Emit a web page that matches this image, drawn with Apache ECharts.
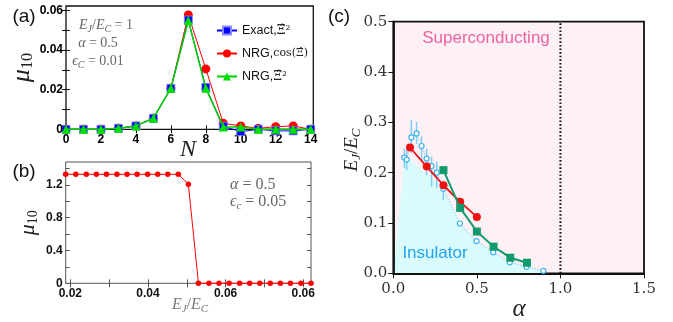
<!DOCTYPE html>
<html><head><meta charset="utf-8">
<script src="https://cdn.jsdelivr.net/npm/echarts@6/dist/echarts.min.js"></script>
<style>html,body{margin:0;padding:0;background:#fff}#c{width:673px;height:322px}</style>
</head><body><div id="c"></div>
<script>
// ---------- Panel (a) ----------
const nA      = [0,1,2,3,4,5,6,7,8,9,10,11,12,13,14];
const exactA  = [0,0,0,0.0005,0.0017,0.0056,0.0207,0.0552,0.0212,0.0015,-0.0012,0,-0.0008,-0.0008,0];
const nrgCosA = [0,0,0,0.0005,0.0017,0.0056,0.0207,0.0578,0.0305,0.0030,0.0017,0.0005,0.0013,0.0017,0];
const nrgSqA  = [0,0,0,0.0005,0.0017,0.0056,0.0207,0.0550,0.0207,0.0012,0.0012,0,0,0,0];
const tickValsAy  = [0,0.01,0.02,0.03,0.04,0.05,0.06];
const labelValsAy = [0,0.02,0.04,0.06];
const labelTxtAy  = ['0','0.02','0.04','0.06'];

// ---------- Panel (b) ----------
const ejB = [0.0188,0.0214,0.0241,0.0267,0.0293,0.0320,0.0346,0.0372,0.0399,0.0425,0.0451,0.0478,
             0.0504,0.0530,0.0557,0.0583,0.0609,0.0636,0.0662,0.0688,0.0715,0.0741,0.0767,0.0794,0.0820];
const muB = [1.33,1.33,1.33,1.33,1.33,1.33,1.33,1.33,1.33,1.33,1.33,1.33,
             1.21,0,0,0,0,0,0,0,0,0,0,0,0];
const tickValsB  = [0.02,0.03,0.04,0.05,0.06,0.07,0.08];
const labelValsB = [0.02,0.04,0.06,0.08];
const labelTxtB  = ['0.02','0.04','0.06','0.06'];
const tickValsBy  = [0,0.2,0.4,0.6,0.8,1.0,1.2,1.4];
const labelValsBy = [0,0.4,0.8,1.2];
const labelTxtBy  = ['0','0.4','0.8','1.2'];

// ---------- Panel (c) ----------
const mcAlpha = [0.066,0.080,0.108,0.139,0.169,0.199,0.229,0.260,0.299,0.398,0.498,0.598,0.697,0.797,0.898];
const mcVal   = [0.230,0.226,0.270,0.278,0.253,0.228,0.213,0.200,0.168,0.099,0.064,0.042,0.022,0.013,0.005];
const errAlpha = [0.066,0.080,0.108,0.139,0.169,0.199,0.229,0.260,0.299];
const errLow   = [0.209,0.205,0.239,0.257,0.225,0.195,0.172,0.169,0.146];
const errHigh  = [0.248,0.245,0.305,0.301,0.272,0.248,0.232,0.222,0.178];
const redAlpha = [0.1,0.2,0.3,0.4,0.5];
const redVal   = [0.250,0.212,0.175,0.142,0.112];
const grnAlpha = [0.3,0.4,0.5,0.6,0.7,0.8];
const grnVal   = [0.205,0.130,0.083,0.053,0.031,0.021];
const fillAlpha = [0,0.07,0.3,0.398,0.498,0.598,0.697,0.797,0.898];
const fillVal   = [0,0.235,0.168,0.099,0.064,0.042,0.022,0.013,0.005];
const critAlpha = 1.0;

const zip = (a,b)=>a.map((v,i)=>[v,b[i]]);
const SANS = 'Liberation Sans', SERIF = 'Liberation Serif', DSERIF = 'DejaVu Serif';

const GA = {left:66, top:6, width:247.3, height:123.3};
const GB = {left:65.7, top:162, width:245.3, height:121.3};
const GC = {left:393.3, top:21.7, width:250.7, height:251.6};

const lookup = (vals, txts) => v => { const i = vals.findIndex(t=>Math.abs(t-v)<1e-9); return i>=0 ? txts[i] : ''; };

function mirrorAx(grid, min, max, extra){
  return Object.assign({gridIndex:grid, type:'value', min, max, axisLine:{show:false},
    axisLabel:{show:false}, splitLine:{show:false}}, extra);
}

const tickA = {inside:true, length:4, lineStyle:{color:'#111', width:1}};
const tickB = {inside:true, length:4, lineStyle:{color:'#555', width:1}};
const lblSans = (col, margin) => ({margin, fontSize:12, fontWeight:'bold', fontFamily:SANS, color:col});
const muName = (fsM, fsN) => ({
  name:'{m|μ}{n|10}', nameLocation:'middle', nameRotate:90,
  nameTextStyle:{rich:{
    m:{fontSize:fsM, fontFamily:SERIF, fontStyle:'italic', color:'#222', lineHeight:fsM+2},
    n:{fontSize:fsN, fontFamily:SERIF, color:'#222', lineHeight:fsN, verticalAlign:'bottom'}}}
});

const option = {
  animation:false,
  backgroundColor:'#fff',
  grid:[
    Object.assign({show:true, borderColor:'#111', borderWidth:1.3, backgroundColor:'#fff'}, GA),
    Object.assign({show:true, borderColor:'#555', borderWidth:1, backgroundColor:'#fff'}, GB),
    Object.assign({show:true, borderColor:'#111', borderWidth:1.8, backgroundColor:'#fdf1f6'}, GC)
  ],
  xAxis:[
    {gridIndex:0, type:'value', min:0, max:14.15, interval:2, axisLine:{show:false}, axisTick:tickA,
     splitLine:{show:false},
     axisLabel:Object.assign(lblSans('#000',4), {formatter:v=> (Math.abs(v-Math.round(v))<1e-6 && v<=14) ? String(v) : ''})},
    mirrorAx(0, 0, 14.15, {interval:2, position:'top', axisTick:tickA}),
    {gridIndex:1, type:'value', min:0.0188, max:0.082, axisLine:{show:false},
     axisTick:Object.assign({customValues:tickValsB}, tickB), splitLine:{show:false},
     axisLabel:Object.assign(lblSans('#111',4), {customValues:labelValsB, formatter:lookup(labelValsB,labelTxtB)})},
    mirrorAx(1, 0.0188, 0.082, {position:'top', axisTick:Object.assign({customValues:tickValsB}, tickB)}),
    {gridIndex:2, type:'value', min:0, max:1.5, interval:0.5, z:3,
     axisLine:{show:true, lineStyle:{color:'#111', width:1.8}},
     axisTick:{inside:false, length:5, lineStyle:{color:'#111', width:1}}, splitLine:{show:false},
     axisLabel:{margin:8, fontSize:15, fontFamily:DSERIF, color:'#333', formatter:v=>v.toFixed(1)}}
  ],
  yAxis:[
    Object.assign({gridIndex:0, type:'value', min:0, max:0.0623, axisLine:{show:false},
     axisTick:Object.assign({customValues:tickValsAy}, tickA), splitLine:{show:false}, nameGap:30,
     axisLabel:{show:false}}, muName(26,16)),
    mirrorAx(0, 0, 0.0623, {position:'right', axisTick:Object.assign({customValues:tickValsAy}, tickA)}),
    Object.assign({gridIndex:1, type:'value', min:0, max:1.48, axisLine:{show:false},
     axisTick:Object.assign({customValues:tickValsBy}, tickB), splitLine:{show:false}, nameGap:25,
     axisLabel:{show:false}}, muName(22,14)),
    mirrorAx(1, 0, 1.48, {position:'right', axisTick:Object.assign({customValues:tickValsBy}, tickB)}),
    {gridIndex:2, type:'value', min:0, max:0.5, interval:0.1, z:3,
     axisLine:{show:true, lineStyle:{color:'#111', width:1.8}},
     axisTick:{inside:false, length:5, lineStyle:{color:'#111', width:1}}, splitLine:{show:false},
     axisLabel:{margin:6, fontSize:15, fontFamily:DSERIF, color:'#333', formatter:v=>v.toFixed(1)}}
  ],
  legend:{
    data:['Exact','NRGcos','NRGsq'], orient:'vertical', left:211, top:19, itemWidth:20, itemHeight:10,
    itemGap:10, selectedMode:false,
    textStyle:{fontSize:12, fontFamily:SANS, color:'#111',
      rich:{t:{fontSize:12.5, fontFamily:SANS, color:'#111'}, m:{fontSize:12.5, fontFamily:DSERIF, color:'#222'},
            c:{fontSize:11, fontFamily:DSERIF, color:'#222'}}},
    formatter:n=> n==='Exact' ? '{t|Exact,}{m|Ξ̂²}' : n==='NRGcos' ? '{t|NRG,}{c|cos(Ξ̂)}' : '{t|NRG,}{m|Ξ̂²}'
  },
  series:[
    {name:'NRGcos', type:'line', xAxisIndex:0, yAxisIndex:0, data:zip(nA,nrgCosA), clip:false,
     symbol:'circle', symbolSize:9, itemStyle:{color:'#ff0000'}, lineStyle:{color:'#ff0000', width:1}, z:2},
    {name:'Exact', type:'line', xAxisIndex:0, yAxisIndex:0, data:zip(nA,exactA), clip:false,
     symbol:'rect', symbolSize:8, itemStyle:{color:'#0000ff', borderColor:'#8a8aff', borderWidth:0.8},
     lineStyle:{color:'#0000ff', width:1}, z:3},
    {name:'NRGsq', type:'line', xAxisIndex:0, yAxisIndex:0, data:zip(nA,nrgSqA), clip:false,
     symbol:'triangle', symbolSize:9, itemStyle:{color:'#00e000'}, lineStyle:{color:'#00d000', width:1.5}, z:4},

    {name:'muB', type:'line', xAxisIndex:2, yAxisIndex:2, data:zip(ejB,muB), clip:false,
     symbol:'circle', symbolSize:5.5, itemStyle:{color:'#ff0000'}, lineStyle:{color:'#ff0000', width:1}},

    {name:'fill', type:'line', xAxisIndex:4, yAxisIndex:4, data:zip(fillAlpha,fillVal), symbol:'none',
     lineStyle:{width:0, opacity:0}, areaStyle:{color:'#d9fbfc', opacity:1}, z:1, silent:true},
    {name:'crit', type:'line', xAxisIndex:4, yAxisIndex:4, data:[[critAlpha,0],[critAlpha,0.5]], symbol:'none',
     lineStyle:{color:'#111', width:2, type:[1.6,2]}, z:2},
    {name:'err', type:'custom', xAxisIndex:4, yAxisIndex:4,
     data:errAlpha.map((a,i)=>[a,errLow[i],errHigh[i]]), encode:{x:0,y:[1,2]}, z:3, silent:true,
     renderItem:(p,api)=>{ const a=api.coord([api.value(0),api.value(1)]), b=api.coord([api.value(0),api.value(2)]);
       return {type:'line', shape:{x1:a[0],y1:a[1],x2:b[0],y2:b[1]}, style:{stroke:'#7fd0f4', lineWidth:1.5}}; }},
    {name:'mc', type:'line', xAxisIndex:4, yAxisIndex:4, data:zip(mcAlpha,mcVal), symbol:'circle', symbolSize:5,
     itemStyle:{color:'#fff', borderColor:'#3db4ee', borderWidth:1.2},
     lineStyle:{color:'#7fd0f4', width:1, type:[1.5,1.5]}, z:3},
    {name:'red', type:'line', xAxisIndex:4, yAxisIndex:4, data:zip(redAlpha,redVal), symbol:'circle', symbolSize:8,
     itemStyle:{color:'#ee1111'}, lineStyle:{color:'#ee1111', width:1.8}, z:4},
    {name:'grn', type:'line', xAxisIndex:4, yAxisIndex:4, data:zip(grnAlpha,grnVal), symbol:'rect', symbolSize:8,
     itemStyle:{color:'#119a6c'}, lineStyle:{color:'#119a6c', width:2}, z:5}
  ]
};

function txt(x, y, rich, text, extra){
  return Object.assign({type:'text', x, y, silent:true, z:100,
    style:{text, rich, align:'center', verticalAlign:'middle', textAlign:'center', textVerticalAlign:'middle'}}, extra||{});
}
const mathRich = (fs, col) => ({
  i:{fontSize:fs, fontFamily:SERIF, fontStyle:'italic', fill:col, lineHeight:fs+4},
  r:{fontSize:fs, fontFamily:SERIF, fill:col, lineHeight:fs+4},
  s:{fontSize:Math.round(fs*0.7), fontFamily:SERIF, fontStyle:'italic', fill:col, lineHeight:Math.round(fs*0.7), verticalAlign:'bottom'},
  n:{fontSize:Math.round(fs*0.7), fontFamily:SERIF, fill:col, lineHeight:Math.round(fs*0.7), verticalAlign:'bottom'}
});
const plain = (x,y,text,font,fill,extra) => txt(x,y,null,'',Object.assign({style:{text, font, fill, align:'center', verticalAlign:'middle'}}, extra||{}));

const g = [];
// panel labels
g.push(plain(24,17,'(a)','19px "Liberation Sans"','#111'));
g.push(plain(24,172,'(b)','19px "Liberation Sans"','#111'));
g.push(plain(339,17,'(c)','19px "Liberation Sans"','#111'));
// panel (a) annotations
const ra = mathRich(14,'#666');
g.push(txt(106,25,ra,'{i|E}{s|J}{r|/}{i|E}{s|C}{r| = 1}'));
g.push(txt(98,43,ra,'{i|α}{r| = 0.5}'));
g.push(txt(98,61,ra,'{i|ϵ}{s|C}{r| = 0.01}'));
// panel (b) annotations
const rb = mathRich(16,'#666');
g.push(txt(230,185,rb,'',{style:{text:'{i|α}{r| = 0.5}', rich:rb, align:'left', verticalAlign:'middle'}}));
g.push(txt(230,202,rb,'',{style:{text:'{i|ϵ}{s|c}{r| = 0.05}', rich:rb, align:'left', verticalAlign:'middle'}}));
// axis names
g.push(plain(188,150,'N','italic 24px "Liberation Serif"','#222'));
g.push(txt(190,305,mathRich(16,'#777'),'{i|E}{s|J}{r|/}{i|E}{s|C}'));
const rc = mathRich(19,'#222');
g.push(txt(352,150,rc,'{i|E}{s|J}{r|/}{i|E}{s|C}',{rotation:Math.PI/2}));
g.push(plain(519,309,'α','italic 25px "Liberation Serif"','#222'));
// region labels
g.push(plain(486,38,'Superconducting','17px "Liberation Sans"','#ec62a2'));
g.push(plain(435,253,'Insulator','17px "Liberation Sans"','#22a4ee'));

const chart = echarts.init(document.getElementById('c'), null, {renderer:'canvas'});
chart.setOption(option);

// y tick labels of panels (a) and (b), placed through the axes' own scales
function yLabels(axisIdx, xAxisIdx, xMin, vals, txts, col){
  const x0 = chart.convertToPixel({xAxisIndex:xAxisIdx}, xMin);
  return vals.map((v,i)=>({type:'text', x:x0-3, y:chart.convertToPixel({yAxisIndex:axisIdx}, v), silent:true, z:100,
    style:{text:txts[i], font:'bold 12px "Liberation Sans"', fill:col, align:'right', verticalAlign:'middle',
           textAlign:'right', textVerticalAlign:'middle'}}));
}
const extra = yLabels(0, 0, 0, labelValsAy, labelTxtAy, '#000')
  .concat(yLabels(2, 2, 0.0188, labelValsBy, labelTxtBy, '#111'));
chart.setOption({graphic: g.concat(extra)});
</script></body></html>
